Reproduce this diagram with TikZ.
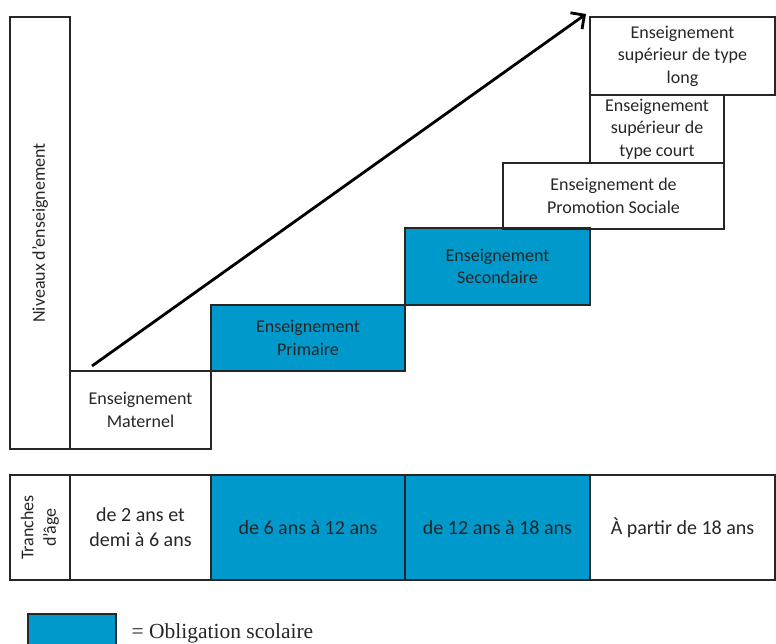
\documentclass[tikz,border=0pt]{standalone}
\usepackage{fontspec}
\setmainfont{Carlito}
\newfontfamily\legendfont{Liberation Serif}
\usepackage{tikz}
\usetikzlibrary{arrows.meta}

\definecolor{obligbleu}{RGB}{0,153,204}

\begin{document}
\begin{tikzpicture}[x=1pt,y=-1pt,
    box/.style={rectangle,draw=black!85,line width=1.3pt,inner sep=0pt,align=center,text=black!85,font=\fontsize{18}{22.5}\selectfont},
    oblig/.style={box,fill=obligbleu},
    tranche/.style={box,minimum height=105pt,font=\fontsize{20}{25}\selectfont}]

  \useasboundingbox (0,0) rectangle (776,643);

  \node[box,rotate=90,minimum width=432pt,minimum height=60pt] (niv) at (40,233) {Niveaux d’enseignement};

  \node[box,minimum width=141pt,minimum height=78pt]   (mat)   at (140.5,410)  {Enseignement\\Maternel};
  \node[oblig,minimum width=194pt,minimum height=66pt] (prim)  at (308,338)    {Enseignement\\Primaire};
  \node[oblig,minimum width=185pt,minimum height=77pt] (sec)   at (497.5,266.5) {Enseignement\\Secondaire};
  \node[box,minimum width=221pt,minimum height=66pt]   (promo) at (613.5,196)  {Enseignement de\\Promotion Sociale};
  \node[box,minimum width=134pt,minimum height=68pt]   (court) at (657,129)    {Enseignement\\supérieur de\\type court};
  \node[box,minimum width=185pt,minimum height=78pt]   (long)  at (682.5,56)   {Enseignement\\supérieur de type\\long};

  \coordinate (dep) at (92,366);
  \coordinate (arr) at (586,14);
  \draw[-{Straight Barb[length=10pt,width=20pt]},line width=2.8pt] (dep) -- (arr);

  \node[box,rotate=90,minimum width=105pt,minimum height=60pt] (tr) at (40,527.5) {Tranches\\d’âge};
  \node[tranche,minimum width=141pt]       (age1) at (140.5,527.5) {de 2 ans et\\demi à 6 ans};
  \node[oblig,tranche,minimum width=194pt] (age2) at (308,527.5)   {de 6 ans à 12 ans};
  \node[oblig,tranche,minimum width=185pt] (age3) at (497.5,527.5) {de 12 ans à 18 ans};
  \node[tranche,minimum width=185pt]       (age4) at (682.5,527.5) {À partir de 18 ans};

  \node[oblig,minimum width=88pt,minimum height=38pt] (leg) at (72,633) {};
  \node[anchor=west,text=black!85,font=\legendfont\fontsize{21.5}{24}\selectfont] (legtxt) at (128,633) {= Obligation scolaire};
\end{tikzpicture}
\end{document}
